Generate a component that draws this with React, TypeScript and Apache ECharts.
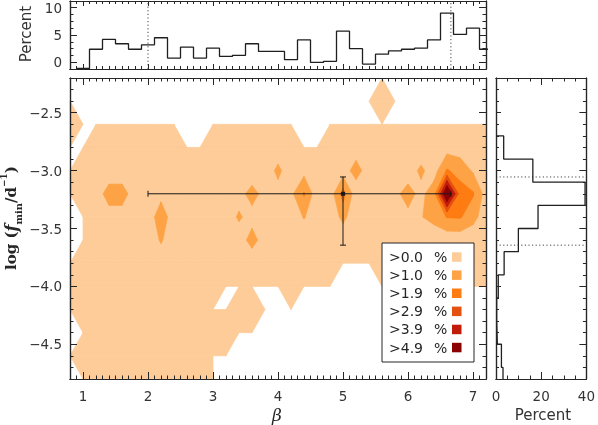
import { useEffect, useRef } from 'react';
import * as echarts from 'echarts';

// ---------------- data ----------------
const betaGrid = [0.8, 1.0, 1.2, 1.4, 1.6, 1.8, 2.0, 2.2, 2.4, 2.6, 2.8, 3.0, 3.2, 3.4, 3.6, 3.8, 4.0, 4.2, 4.4, 4.6, 4.8, 5.0, 5.2, 5.4, 5.6, 5.8, 6.0, 6.2, 6.4, 6.6, 6.8, 7.0, 7.2];
const logfGrid = [-2.2, -2.4, -2.6, -2.8, -3.0, -3.2, -3.4, -3.6, -3.8, -4.0, -4.2, -4.4, -4.6, -4.8];

// percent of stars per (beta, log fmin) cell; rows follow logfGrid, columns follow betaGrid
const density: number[][] = [
  [0, 0, 0, 0, 0, 0, 0, 0, 0, 0, 0, 0, 0, 0, 0, 0, 0, 0, 0, 0, 0, 0, 0, 0, 0, 0, 0, 0, 0, 0, 0, 0, 0],
  [0, 0, 0, 0, 0, 0, 0, 0, 0, 0, 0, 0, 0, 0, 0, 0, 0, 0, 0, 0, 0, 0, 0, 0, 0.4, 0, 0, 0, 0, 0, 0, 0, 0],
  [0.4, 0, 0, 0, 0, 0, 0, 0, 0, 0, 0, 0, 0, 0, 0, 0, 0, 0, 0, 0, 0, 0, 0, 0, 0, 0, 0, 0, 0, 0, 0, 0, 0],
  [0, 0, 0.5, 0.5, 0.5, 0.5, 0.5, 0.5, 0.5, 0, 0, 0.5, 0.5, 0.5, 0.5, 0.5, 0.6, 0.5, 0, 0, 0.5, 0.5, 0.55, 0.5, 0.5, 0.5, 0.5, 0.5, 0.5, 0.6, 0.6, 0.5, 0.5],
  [0, 0.4, 0.4, 0.3, 0.3, 0.4, 0.5, 0.5, 0.5, 0.5, 0.5, 0.5, 0.5, 0.5, 0.45, 0.6, 1.15, 0.6, 0.67, 0.5, 0.5, 0.57, 1.35, 0.55, 0.5, 0.5, 0.6, 1.15, 0.6, 2.0, 1.5, 0.9, 0.5],
  [0, 0.4, 0.4, 1.5, 1.5, 0.4, 0.5, 0.68, 0.5, 0.5, 0.5, 0.5, 0.5, 0.7, 1.3, 0.7, 0.75, 0.75, 2.0, 0.4, 0.44, 2.3, 0.44, 0.5, 0.5, 0.8, 1.3, 0.75, 1.5, 6.4, 2.4, 2.0, 0.6],
  [0, 0, 0.4, 0.5, 0.5, 0.4, 0.4, 1.6, 0.4, 0.5, 0.5, 0.5, 0.6, 1.1, 0.7, 0.5, 0.5, 0.5, 1.05, 0.5, 0.5, 1.2, 0.5, 0.5, 0.5, 0.5, 0.8, 0.95, 1.3, 1.95, 2.0, 1.3, 0.5],
  [0, 0, 0.5, 0.5, 0.5, 0.5, 0.4, 1.1, 0.4, 0.5, 0.5, 0.5, 0.5, 0.6, 1.3, 0.6, 0.5, 0.5, 0.5, 0.5, 0.5, 0.5, 0.5, 0.5, 0.5, 0.5, 0.4, 0.4, 0.4, 0.4, 0.4, 0.4, 0.4],
  [0, 0.5, 0.5, 0.5, 0.5, 0.5, 0.5, 0.4, 0.5, 0.5, 0.5, 0.5, 0.5, 0.5, 0.45, 0.5, 0.5, 0.5, 0.5, 0.5, 0.5, 0, 0, 0, 0.5, 0.5, 0.5, 0.5, 0.5, 0.5, 0.5, 0.5, 0.5],
  [0, 0.5, 0.5, 0.5, 0.5, 0.5, 0.5, 0.5, 0.5, 0.5, 0.5, 0.5, 0, 0, 0, 0, 0, 0.5, 0, 0, 0, 0, 0, 0, 0, 0, 0, 0, 0, 0, 0, 0, 0],
  [0, 0.5, 0.5, 0.5, 0.5, 0.5, 0.5, 0.5, 0.5, 0.5, 0.5, 0, 0, 0.5, 0.5, 0, 0, 0, 0, 0, 0, 0, 0, 0, 0, 0, 0, 0, 0, 0, 0, 0, 0],
  [0, 0, 0.5, 0.5, 0.5, 0.5, 0.5, 0.5, 0.5, 0.5, 0.5, 0.5, 0.5, 0, 0, 0, 0, 0, 0, 0, 0, 0, 0, 0, 0, 0, 0, 0, 0, 0, 0, 0, 0],
  [0, 0.5, 0.5, 0.5, 0.5, 0.5, 0.5, 0.5, 0.5, 0.5, 0.5, 0, 0, 0, 0, 0, 0, 0, 0, 0, 0, 0, 0, 0, 0, 0, 0, 0, 0, 0, 0, 0, 0],
  [0, 0, 0.5, 0.5, 0.5, 0.5, 0.5, 0.5, 0.5, 0.5, 0.5, 0, 0, 0, 0, 0, 0, 0, 0, 0, 0, 0, 0, 0, 0, 0, 0, 0, 0, 0, 0, 0, 0],
];

const contourLevels = [0.0, 1.0, 1.9, 2.9, 3.9, 4.9];
const contourColors = ['#FDCC98', '#FDA346', '#FE7C12', '#E4500F', '#C11B0A', '#8B0000'];

// marginal histogram in beta (top panel)
const betaBins = [1.0, 1.2, 1.4, 1.6, 1.8, 2.0, 2.2, 2.4, 2.6, 2.8, 3.0, 3.2, 3.4, 3.6, 3.8, 4.0, 4.2, 4.4, 4.6, 4.8, 5.0, 5.2, 5.4, 5.6, 5.8, 6.0, 6.2, 6.4, 6.6, 6.8, 7.0, 7.2];
const betaPercent = [-1.1, 2.4, 4.2, 3.4, 2.4, 3.2, 4.5, 0.8, 2.8, 0.8, 2.6, 1.1, 1.3, 3.4, 2.0, 2.0, 0.5, 4.1, 0.0, 0.2, 5.7, 2.5, -0.3, 1.5, 2.1, 2.4, 2.6, 4.1, 9.0, 5.1, 6.25, 2.4];

// marginal histogram in log fmin (right panel)
const logfBins = [-2.8, -3.0, -3.2, -3.4, -3.6, -3.8, -4.0, -4.2, -4.4, -4.6, -4.8];
const logfPercent = [3.4, 16.3, 39.4, 18.6, 9.9, 3.6, 1.0, 0.3, 0.6, 2.4, 3.1];

// summary point with its ranges
const medianPoint = [5.0, -3.2];
const betaInterval = [2.0, 6.66];
const logfInterval = [-3.055, -3.644];

// axis ticks
const betaMajor = [1, 2, 3, 4, 5, 6, 7];
const logfMajor = [-2.5, -3.0, -3.5, -4.0, -4.5];
const pctTopMajor = [0, 5, 10];
const pctTopMinor = [1.25, 2.5, 3.75, 6.25, 7.5, 8.75];
const pctRightMajor = [0, 20, 40];
const pctRightMinor = [5, 10, 15, 25, 30, 35];

// ---------------- helpers ----------------
const INK = '#262626';
const FONT = 'DejaVu Sans';

function steps(a: number, b: number, s: number): number[] {
  const out: number[] = [];
  const n = Math.round((b - a) / s);
  for (let i = 0; i <= n; i++) out.push(Math.round((a + i * s) * 1000) / 1000);
  return out;
}
const isMult = (v: number, m: number) => Math.abs(v / m - Math.round(v / m)) < 1e-6;
const betaMinor = steps(0.8, 7.2, 0.1).filter((v) => !isMult(v, 1));
const logfMinor = steps(-4.8, -2.2, 0.1).filter((v) => !isMult(v, 0.5));

function buildContours() {
  const items: { lvl: number; pts: number[][] }[] = [];
  contourLevels.forEach((L, li) => {
    for (let r = 0; r < logfGrid.length - 1; r++) {
      for (let c = 0; c < betaGrid.length - 1; c++) {
        const P = [
          [betaGrid[c], logfGrid[r], density[r][c]],
          [betaGrid[c + 1], logfGrid[r], density[r][c + 1]],
          [betaGrid[c + 1], logfGrid[r + 1], density[r + 1][c + 1]],
          [betaGrid[c], logfGrid[r + 1], density[r + 1][c]],
        ];
        const up = P.map((p) => p[2] > L);
        const n = up.filter(Boolean).length;
        if (n === 0) continue;
        const cross = (a: number[], b: number[]) => {
          const t = (L - a[2]) / (b[2] - a[2]);
          return [a[0] + t * (b[0] - a[0]), a[1] + t * (b[1] - a[1])];
        };
        if (n === 4) {
          items.push({ lvl: li, pts: P.map((p) => [p[0], p[1]]) });
          continue;
        }
        if (n === 2 && up[0] === up[2]) {
          for (let k = 0; k < 4; k++) {
            if (!up[k]) continue;
            const nx = P[(k + 1) % 4];
            const pv = P[(k + 3) % 4];
            items.push({ lvl: li, pts: [[P[k][0], P[k][1]], cross(P[k], nx), cross(P[k], pv)] });
          }
          continue;
        }
        const pts: number[][] = [];
        for (let k = 0; k < 4; k++) {
          const a = P[k];
          const b = P[(k + 1) % 4];
          if (up[k]) pts.push([a[0], a[1]]);
          if (up[k] !== up[(k + 1) % 4]) pts.push(cross(a, b));
        }
        items.push({ lvl: li, pts });
      }
    }
  });
  return items;
}

function axis(
  grid: number,
  position: string,
  min: number,
  max: number,
  ticks: number[],
  len: number,
  labels?: number[],
  fmt?: (v: number) => string,
  margin = 8
) {
  return {
    type: 'value',
    gridIndex: grid,
    position,
    min,
    max,
    z: 10,
    axisLine: { show: true, onZero: false, lineStyle: { color: INK, width: 1.2 } },
    axisTick: { show: true, inside: true, length: len, customValues: ticks, lineStyle: { color: INK, width: 1 } },
    axisLabel: labels
      ? { show: true, customValues: labels, formatter: fmt, margin, fontSize: 13.5, color: '#333', fontFamily: FONT }
      : { show: false },
    splitLine: { show: false },
  };
}

const fmtNeg = (v: number) => (v < 0 ? '\u2212' : '') + Math.abs(v).toFixed(1);
const fmtInt = (v: number) => String(Math.round(v));

function buildOption() {
  const polys = buildContours();
  const contourData = polys.map((it, k) => {
    const cx = it.pts.reduce((s, p) => s + p[0], 0) / it.pts.length;
    const cy = it.pts.reduce((s, p) => s + p[1], 0) / it.pts.length;
    return [cx, cy, k];
  });

  const hb = (betaBins[1] - betaBins[0]) / 2;
  const topLine: number[][] = [];
  betaBins.forEach((c, i) => {
    topLine.push([c - hb, betaPercent[i]], [c + hb, betaPercent[i]]);
  });

  const hf = Math.abs(logfBins[1] - logfBins[0]) / 2;
  const rightLine: number[][] = [[0, logfBins[0] + hf]];
  logfBins.forEach((c, i) => {
    rightLine.push([logfPercent[i], c + hf], [logfPercent[i], c - hf]);
  });

  const MAJ = 7;
  const MIN = 3.5;

  const xAxis = [
    axis(0, 'bottom', 0.8, 7.2, betaMajor, MAJ, betaMajor, fmtInt, 10),
    axis(0, 'bottom', 0.8, 7.2, betaMinor, MIN),
    axis(0, 'top', 0.8, 7.2, betaMajor, MAJ),
    axis(0, 'top', 0.8, 7.2, betaMinor, MIN),
    axis(1, 'bottom', 0.8, 7.2, betaMajor, 5),
    axis(1, 'bottom', 0.8, 7.2, betaMinor, 3),
    axis(1, 'top', 0.8, 7.2, betaMajor, 5),
    axis(1, 'top', 0.8, 7.2, betaMinor, 3),
    axis(2, 'bottom', 0, 40, pctRightMajor, MAJ, pctRightMajor, fmtInt, 10),
    axis(2, 'bottom', 0, 40, pctRightMinor, MIN),
    axis(2, 'top', 0, 40, pctRightMajor, MAJ),
    axis(2, 'top', 0, 40, pctRightMinor, MIN),
  ];
  const yAxis = [
    axis(0, 'left', -4.8, -2.2, logfMajor, MAJ, logfMajor, fmtNeg, 8),
    axis(0, 'left', -4.8, -2.2, logfMinor, MIN),
    axis(0, 'right', -4.8, -2.2, logfMajor, MAJ),
    axis(0, 'right', -4.8, -2.2, logfMinor, MIN),
    axis(1, 'left', -1.2, 11.2, pctTopMajor, MAJ, pctTopMajor, fmtInt, 8),
    axis(1, 'left', -1.2, 11.2, pctTopMinor, MIN),
    axis(1, 'right', -1.2, 11.2, pctTopMajor, MAJ),
    axis(1, 'right', -1.2, 11.2, pctTopMinor, MIN),
    axis(2, 'left', -4.8, -2.2, logfMajor, 5),
    axis(2, 'left', -4.8, -2.2, logfMinor, 3),
    axis(2, 'right', -4.8, -2.2, logfMajor, MAJ),
    axis(2, 'right', -4.8, -2.2, logfMinor, MIN),
  ];

  const dotted = { color: '#444', width: 1, type: [1.2, 2.4] };

  const series: any[] = [
    {
      type: 'custom',
      xAxisIndex: 0,
      yAxisIndex: 0,
      z: 2,
      progressive: 0,
      dimensions: ['x', 'y', 'k'],
      encode: { x: 0, y: 1 },
      data: contourData,
      renderItem: (_p: any, api: any) => {
        const it = polys[api.value(2)];
        const col = contourColors[it.lvl];
        return {
          type: 'polygon',
          shape: { points: it.pts.map((p) => api.coord(p)) },
          style: { fill: col, stroke: col, lineWidth: 0.7, lineJoin: 'round' },
        };
      },
    },
    {
      type: 'custom',
      xAxisIndex: 0,
      yAxisIndex: 0,
      z: 4,
      encode: { x: 0, y: 1 },
      data: [[medianPoint[0], medianPoint[1], betaInterval[0], betaInterval[1], logfInterval[0], logfInterval[1]]],
      renderItem: (_p: any, api: any) => {
        const x = api.value(0);
        const y = api.value(1);
        const c = api.coord([x, y]);
        const l = api.coord([api.value(2), y]);
        const r = api.coord([api.value(3), y]);
        const t = api.coord([x, api.value(4)]);
        const b = api.coord([x, api.value(5)]);
        const cap = 3;
        const st = { stroke: '#1a1a1a', lineWidth: 1 };
        const ln = (x1: number, y1: number, x2: number, y2: number) => ({ type: 'line', shape: { x1, y1, x2, y2 }, style: st });
        return {
          type: 'group',
          children: [
            ln(l[0], l[1], r[0], r[1]),
            ln(l[0], l[1] - cap, l[0], l[1] + cap),
            ln(r[0], r[1] - cap, r[0], r[1] + cap),
            ln(t[0], t[1], b[0], b[1]),
            ln(t[0] - cap, t[1], t[0] + cap, t[1]),
            ln(b[0] - cap, b[1], b[0] + cap, b[1]),
            { type: 'rect', shape: { x: c[0] - 2, y: c[1] - 2, width: 4, height: 4 }, style: { fill: '#1a1a1a' } },
          ],
        };
      },
    },
    {
      type: 'line',
      xAxisIndex: 4,
      yAxisIndex: 4,
      data: topLine,
      symbol: 'none',
      lineStyle: { color: '#1f1f1f', width: 1.3 },
      z: 3,
    },
    ...betaInterval.map((b) => ({
      type: 'line',
      xAxisIndex: 4,
      yAxisIndex: 4,
      data: [[b, -1.2], [b, 11.2]],
      symbol: 'none',
      lineStyle: dotted,
      z: 2,
    })),
    {
      type: 'line',
      xAxisIndex: 8,
      yAxisIndex: 8,
      data: rightLine,
      symbol: 'none',
      lineStyle: { color: '#1f1f1f', width: 1.3 },
      z: 3,
    },
    ...logfInterval.map((f) => ({
      type: 'line',
      xAxisIndex: 8,
      yAxisIndex: 8,
      data: [[0, f], [40, f]],
      symbol: 'none',
      lineStyle: dotted,
      z: 2,
    })),
  ];

  const Z = 100;
  const legendItems: any[] = [
    { type: 'rect', z: Z, shape: { x: 382, y: 243, width: 92, height: 119 }, style: { fill: '#fff', stroke: INK, lineWidth: 1 } },
  ];
  contourLevels.forEach((L, i) => {
    const cy = 257 + i * 18.1;
    legendItems.push(
      {
        type: 'text',
        z: Z + 1,
        x: 389,
        y: cy,
        style: { text: '>' + L.toFixed(1), font: '14px ' + FONT, fill: INK, align: 'left', verticalAlign: 'middle', textAlign: 'left', textVerticalAlign: 'middle' },
      },
      {
        type: 'text',
        z: Z + 1,
        x: 434,
        y: cy,
        style: { text: '%', font: '14px ' + FONT, fill: INK, align: 'left', verticalAlign: 'middle', textAlign: 'left', textVerticalAlign: 'middle' },
      },
      { type: 'rect', z: Z + 1, shape: { x: 452, y: cy - 4.7, width: 9.5, height: 9.5 }, style: { fill: contourColors[i] } }
    );
  });

  const center = { align: 'center', verticalAlign: 'middle', textAlign: 'center', textVerticalAlign: 'middle' };
  const serif = 'DejaVu Serif';
  const graphic: any[] = [
    ...legendItems,
    {
      type: 'text',
      z: Z,
      x: 11,
      y: 218,
      rotation: Math.PI / 2,
      style: {
        ...center,
        text: '{a|log (}{f|f}{s|min}{a|/d}{p|\u22121}{a|)}',
        rich: {
          a: { font: 'bold 15px ' + serif, fill: INK, lineHeight: 24, verticalAlign: 'middle' },
          f: { font: 'italic bold 16px ' + serif, fill: INK, lineHeight: 24, verticalAlign: 'middle' },
          s: { font: 'bold 10px ' + serif, fill: INK, lineHeight: 24, verticalAlign: 'bottom' },
          p: { font: 'bold 9px ' + serif, fill: INK, lineHeight: 24, verticalAlign: 'top' },
        },
      },
    },
    { type: 'text', z: Z, x: 277, y: 415, style: { ...center, text: '\u03B2', font: 'italic 17px ' + serif, fill: INK } },
    { type: 'text', z: Z, x: 543, y: 414.5, style: { ...center, text: 'Percent', font: '15px ' + FONT, fill: '#333' } },
    { type: 'text', z: Z, x: 26, y: 34, rotation: Math.PI / 2, style: { ...center, text: 'Percent', font: '15px ' + FONT, fill: '#333' } },
  ];

  return {
    animation: false,
    textStyle: { fontFamily: FONT },
    grid: [
      { left: 70, top: 78, width: 416, height: 301 },
      { left: 70, top: 1, width: 416, height: 68 },
      { left: 496, top: 78, width: 93, height: 301 },
    ],
    xAxis,
    yAxis,
    series,
    graphic,
  };
}

export default function App() {
  const ref = useRef<HTMLDivElement>(null);
  useEffect(() => {
    if (!ref.current) return;
    const chart = echarts.init(ref.current, undefined, { renderer: 'svg' });
    chart.setOption(buildOption() as any);
    return () => chart.dispose();
  }, []);
  return <div ref={ref} style={{ position: 'fixed', left: 0, top: 0, width: 598, height: 425 }} />;
}
